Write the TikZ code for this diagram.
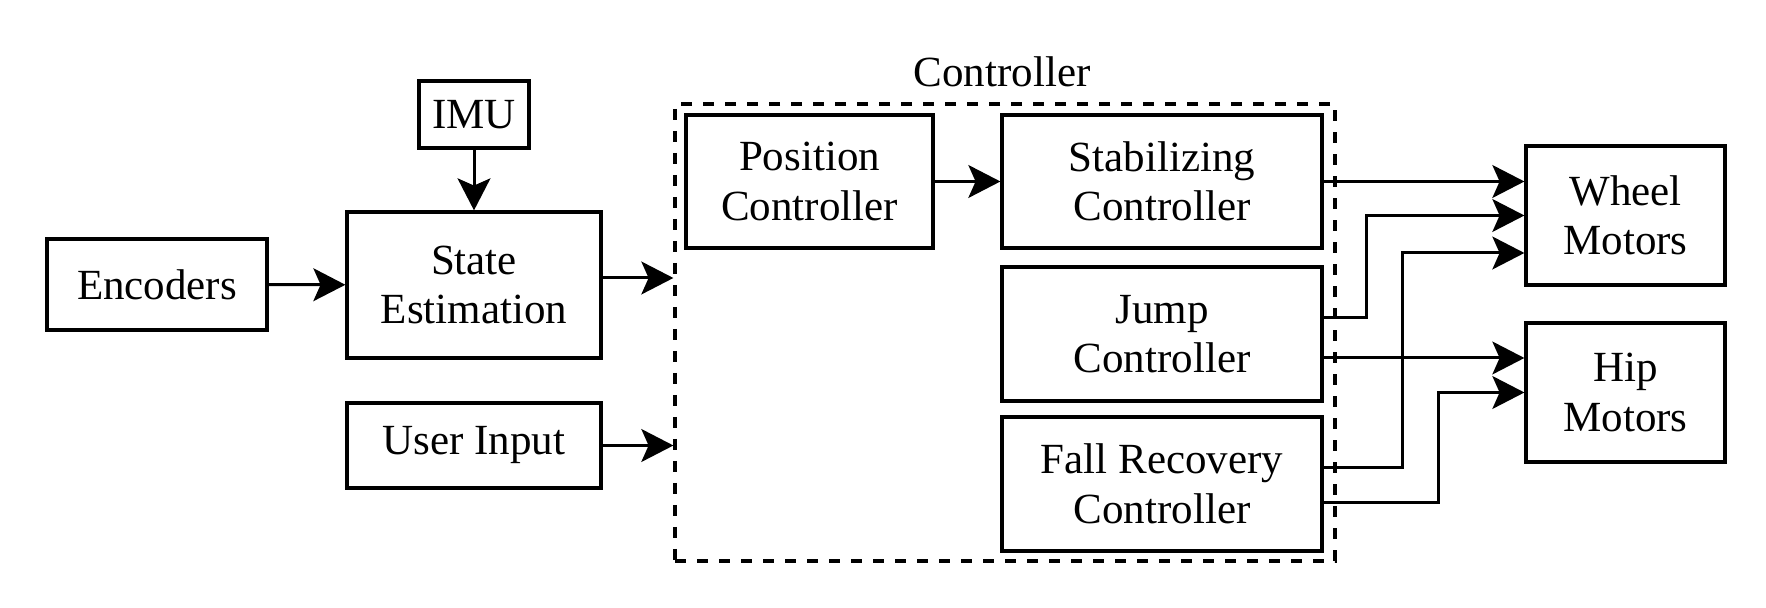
\documentclass[tikz,border=0pt]{standalone}
\usepackage{fontspec}
\setmainfont{Liberation Serif}
\usetikzlibrary{arrows.meta,calc}

\begin{document}
\fontsize{10.75}{12.4}\selectfont
\begin{tikzpicture}[x=0.25pt,y=0.25pt,
    block/.style={draw,line width=0.8pt,inner sep=0pt,align=center},
    arr/.style={line width=0.75pt,-{Stealth[length=8pt,width=8.2pt,inset=1.8pt]}},
    ctrlbox/.style={draw,line width=0.8pt,dash pattern=on 2.75pt off 2.75pt,inner sep=0pt}]
    \useasboundingbox (0,0) rectangle (1766,608);
    % inputs
    \node[block,minimum width=55pt,minimum height=22.75pt] (enc) at (157,323.5) {Encoders};
    \node[block,minimum width=27.5pt,minimum height=16.75pt] (imu) at (474,493.5) {IMU};
    \node[block,minimum width=63.5pt,minimum height=36.5pt] (state) at (474,323) {State\\Estimation};
    \node[block,minimum width=63.5pt,minimum height=21.25pt] (user) at (474,162.5) {User Input};
    % controller
    \node[ctrlbox,minimum width=165pt,minimum height=114.25pt] (ctrl) at (1005,275.5) {};
    \node (ctrllabel) at (1002,536) {Controller};
    \node[block,minimum width=61.75pt,minimum height=33.25pt] (pos) at (809.5,426.5) {Position\\Controller};
    \node[block,minimum width=80pt,minimum height=33.25pt] (stab) at (1162,426.5) {Stabilizing\\Controller};
    \node[block,minimum width=80pt,minimum height=33.5pt] (jump) at (1162,274) {Jump\\Controller};
    \node[block,minimum width=80pt,minimum height=33.5pt] (fall) at (1162,124) {Fall Recovery\\Controller};
    % motors
    \node[block,minimum width=49.75pt,minimum height=34.75pt] (wheel) at (1625.5,392.5) {Wheel\\Motors};
    \node[block,minimum width=49.75pt,minimum height=34.75pt] (hip) at (1625.5,215.5) {Hip\\Motors};
    % ends and bends of the lines
    \coordinate (sout) at ($(state.east)+(0,7)$);
    \coordinate (jup) at ($(jump.east)+(0,16)$);
    \coordinate (jlow) at ($(jump.east)+(0,-24)$);
    \coordinate (fup) at ($(fall.east)+(0,16)$);
    \coordinate (flow) at ($(fall.east)+(0,-19)$);
    \coordinate (wbend) at (1402,355);
    \coordinate (hbend) at (1438,215.5);

    \draw[arr] (enc) -- (state);
    \draw[arr] (imu) -- (state);
    \draw[arr] (sout) -- (sout -| ctrl.west);
    \draw[arr] (user.east) -- (user.east -| ctrl.west);
    \draw[arr] (pos) -- (stab);
    \draw[arr] (stab.east) -- (stab.east -| wheel.west);
    \draw[arr] (jup) -| (1366,392.5) -- (wheel.west);
    \draw[arr] (fup) -| (wbend) -- (wbend -| wheel.west);
    \draw[arr] (jlow) -- (jlow -| hip.west);
    \draw[arr] (flow) -| (hbend) -- (hip.west);
\end{tikzpicture}
\end{document}
